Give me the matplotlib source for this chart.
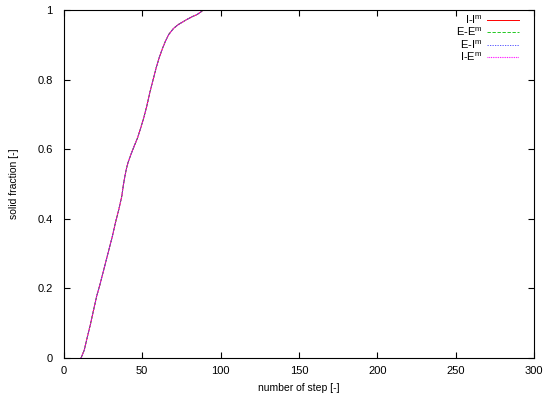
import matplotlib
matplotlib.use('Agg')
import matplotlib.pyplot as plt

plt.rcParams['font.family'] = ['Liberation Sans', 'DejaVu Sans']
plt.rcParams['mathtext.fontset'] = 'custom'
plt.rcParams['mathtext.rm'] = 'Liberation Sans'

# number of step and solid fraction (all four schemes coincide)
step = [11, 13, 15, 17, 19, 21, 23, 25, 27, 29, 31, 33, 35, 37, 38, 39, 40, 41, 43, 45, 47, 49,
        51, 53, 55, 57, 59, 61, 63, 65, 67, 70, 73, 76, 79, 82, 85, 87, 89]
sf_II = [0, 0.022, 0.06, 0.097, 0.138, 0.178, 0.21, 0.245, 0.28, 0.315, 0.35, 0.39, 0.425,
         0.465, 0.497, 0.523, 0.545, 0.562, 0.587, 0.61, 0.632, 0.66, 0.69, 0.725, 0.765,
         0.8, 0.835, 0.865, 0.89, 0.912, 0.93, 0.947, 0.958, 0.966, 0.974, 0.981, 0.987,
         0.993, 1.0]
sf_EE = list(sf_II)
sf_EI = list(sf_II)
sf_IE = list(sf_II)

labels = [r'I-I$^{\mathrm{m}}$', r'E-E$^{\mathrm{m}}$', r'E-I$^{\mathrm{m}}$', r'I-E$^{\mathrm{m}}$']
colors = ['#ff0000', '#00c000', '#4040ff', '#ff00ff']
styles = ['-', (0, (4, 2)), (0, (1.5, 1.5)), (0, (0.8, 0.8))]
widths = [0.7, 0.6, 0.6, 0.8]

fig = plt.figure(figsize=(5.5, 4), dpi=100)
ax = fig.add_axes([0.116, 0.105, 0.855, 0.87])

for sf, lab, c, ls, lw in zip([sf_II, sf_EE, sf_EI, sf_IE], labels, colors, styles, widths):
    ax.plot(step, sf, color=c, linestyle=ls, linewidth=lw, label=lab)

ax.set_xlim(0, 300)
ax.set_ylim(0, 1)
ax.set_xticks([0, 50, 100, 150, 200, 250, 300])
ax.set_yticks([0, 0.2, 0.4, 0.6, 0.8, 1])
ax.set_yticklabels(['0', '0.2', '0.4', '0.6', '0.8', '1'])
ax.tick_params(direction='in', top=True, right=True, length=4, width=0.8, labelsize=8)
ax.tick_params(axis='y', pad=8)
ax.tick_params(axis='x', pad=6)
for s in ax.spines.values():
    s.set_linewidth(0.8)
ax.set_xlabel('number of step [-]', fontsize=7.5, labelpad=5)
ax.set_ylabel('solid fraction [-]', fontsize=7.5, labelpad=13)

ax.legend(loc='upper right', bbox_to_anchor=(0.976, 1.0), frameon=False, markerfirst=False,
          fontsize=8, handlelength=2.9, labelspacing=0.0, borderaxespad=0.0,
          handletextpad=0.4, borderpad=0.3)

fig.savefig('out.png', dpi=100)
